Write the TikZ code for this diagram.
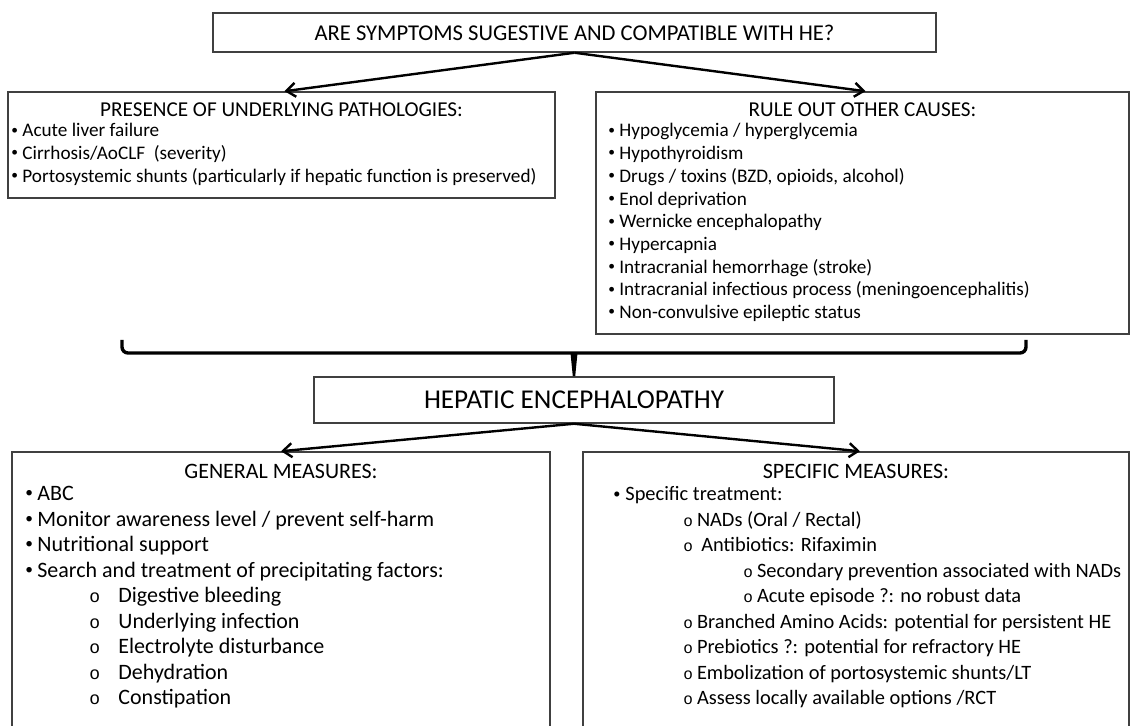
\documentclass[tikz,border=0pt]{standalone}
\usepackage{fontspec}
\setmainfont{Carlito}
\newfontfamily\ofont{Liberation Mono}
\usepackage{tikz}
\usetikzlibrary{arrows.meta, positioning, calc}
\definecolor{framegray}{RGB}{64,64,64}
\definecolor{inkblack}{RGB}{0,0,0}
\tikzset{
  frame/.style={rectangle, draw=framegray, line width=0.75pt, inner sep=0pt},
  heading/.style={anchor=base, inner sep=0pt, font=\fontsize{10.6}{12}\selectfont},
  lowheading/.style={anchor=base, inner sep=0pt, font=\fontsize{11}{13}\selectfont},
  item/.style={anchor=base west, inner sep=0pt, font=\fontsize{9.6}{11}\selectfont},
  genitem/.style={anchor=base west, inner sep=0pt, font=\fontsize{11}{13}\selectfont},
  specitem/.style={anchor=base west, inner sep=0pt, font=\fontsize{10.2}{12}\selectfont},
  arrow/.style={-{Straight Barb[length=4.5pt,width=7pt]}, line width=1.2pt, color=inkblack},
  bracket/.style={line width=1.7pt, rounded corners=3pt, color=inkblack}
}
\newcommand{\bul}[1][5.5pt]{\makebox[#1][l]{\raisebox{0.3ex}{\scalebox{0.7}{•}}}}
\newcommand{\ob}[1][9]{{\ofont\fontsize{#1}{#1}\selectfont o}}

\begin{document}
\begin{tikzpicture}[x=0.5pt, y=-0.5pt]
  \useasboundingbox (0,0) rectangle (1131,726);

  % Question and the two checks
  \node[frame, minimum width=361.5pt, minimum height=19.5pt, font=\fontsize{11.3}{13}\selectfont]
    (question) at (574.5,32.5) {ARE SYMPTOMS SUGESTIVE AND COMPATIBLE WITH HE?};
  \node[frame, minimum width=273.5pt, minimum height=53pt] (pathology) at (281.5,145) {};
  \node[frame, minimum width=266.5pt, minimum height=121pt] (causes) at (862.5,213) {};

  \draw[arrow] (question.south) -- ($(pathology.north)+(3,0)$);
  \draw[arrow] (question.south) -- ($(causes.north)+(3,0)$);

  \node[heading] (pathtitle) at (281.5,117) {PRESENCE OF UNDERLYING PATHOLOGIES:};
  \foreach \txt [count=\i] in {{\bul Acute liver failure},
      {\bul Cirrhosis/AoCLF~ (severity)},
      {\bul Portosystemic shunts (particularly if hepatic function is preserved)}}
    \node[item] (path\i) at (11,{137+(\i-1)*22.7}) {\txt};

  \node[heading] (causetitle) at (862.5,117) {RULE OUT OTHER CAUSES:};
  \foreach \txt [count=\i] in {{\bul Hypoglycemia / hyperglycemia},
      {\bul Hypothyroidism},
      {\bul Drugs / toxins (BZD, opioids, alcohol)},
      {\bul Enol deprivation},
      {\bul Wernicke encephalopathy},
      {\bul Hypercapnia},
      {\bul Intracranial hemorrhage (stroke)},
      {\bul Intracranial infectious process (meningoencephalitis)},
      {\bul Non-convulsive epileptic status}}
    \node[item] (cause\i) at (608,{137+(\i-1)*22.7}) {\txt};

  % Brace gathering both boxes
  \coordinate (bl) at (122,340);
  \coordinate (br) at (1026,340);
  \draw[bracket] (bl) -- ++(0,13) coordinate (bar) -| (br);

  \node[frame, minimum width=260pt, minimum height=23pt, font=\fontsize{13.6}{16}\selectfont]
    (hepatic) at (574,400) {HEPATIC ENCEPHALOPATHY};
  \fill[inkblack] ($(hepatic.north |- bar)+(-3.5,0)$) -- ($(hepatic.north |- bar)+(3.5,0)$)
    -- ($(hepatic.north)+(1.2,0)$) -- ($(hepatic.north)+(-1.2,0)$) -- cycle;

  % Treatment
  \node[frame, minimum width=269pt, minimum height=144pt] (general) at (281,596) {};
  \node[frame, minimum width=273pt, minimum height=144pt] (specific) at (856,596) {};

  \draw[arrow] (hepatic.south) -- (general.north);
  \draw[arrow] (hepatic.south) -- ($(specific.north)+(4,0)$);

  \node[lowheading] (gentitle) at (281,479) {GENERAL MEASURES:};
  \foreach \x/\txt [count=\i] in {25/{\bul[6pt]ABC},
      25/{\bul[6pt]Monitor awareness level / prevent self-harm},
      25/{\bul[6pt]Nutritional support},
      25/{\bul[6pt]Search and treatment of precipitating factors:},
      89/{\makebox[14.5pt][l]{\ob}Digestive bleeding},
      89/{\makebox[14.5pt][l]{\ob}Underlying infection},
      89/{\makebox[14.5pt][l]{\ob}Electrolyte disturbance},
      89/{\makebox[14.5pt][l]{\ob}Dehydration},
      89/{\makebox[14.5pt][l]{\ob}Constipation}}
    \node[genitem] (gen\i) at (\x,{501+(\i-1)*25.5}) {\txt};

  \node[lowheading] (spectitle) at (856,479) {SPECIFIC MEASURES:};
  \foreach \x/\txt [count=\i] in {613/{\bul[6pt]Specific treatment:},
      683/{\makebox[6.8pt][l]{\ob[8]}NADs (Oral / Rectal)},
      683/{\makebox[9pt][l]{\ob[8]}Antibiotics: Rifaximin},
      743/{\makebox[6.8pt][l]{\ob[8]}Secondary prevention associated with NADs},
      743/{\makebox[6.8pt][l]{\ob[8]}Acute episode ?: no robust data},
      683/{\makebox[6.8pt][l]{\ob[8]}Branched Amino Acids: potential for persistent HE},
      683/{\makebox[6.8pt][l]{\ob[8]}Prebiotics ?: potential for refractory HE},
      683/{\makebox[6.8pt][l]{\ob[8]}Embolization of portosystemic shunts/LT},
      683/{\makebox[6.8pt][l]{\ob[8]}Assess locally available options /RCT}}
    \node[specitem] (spec\i) at (\x,{501+(\i-1)*25.5}) {\txt};
\end{tikzpicture}
\end{document}
